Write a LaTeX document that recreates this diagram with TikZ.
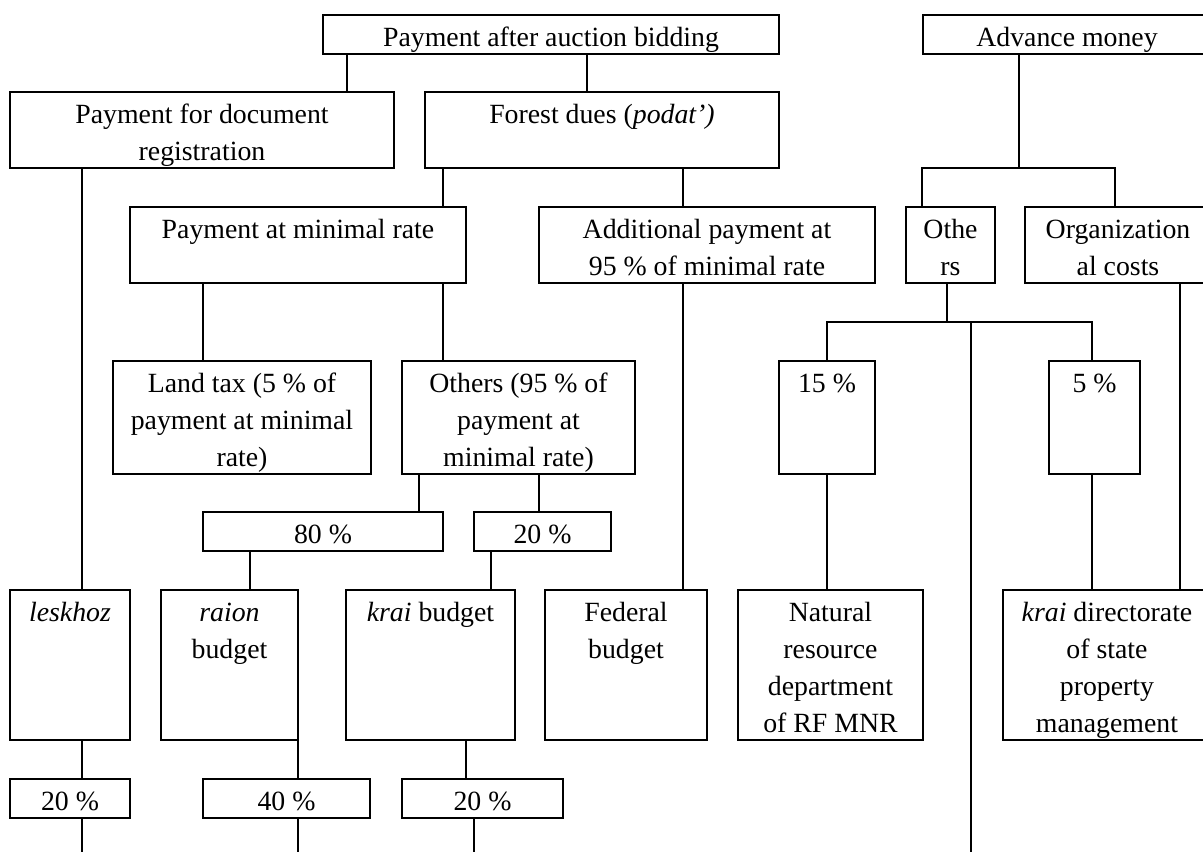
\documentclass[tikz,border=0pt]{standalone}
\usepackage{fontspec}
\setmainfont{Liberation Serif}
\newcommand\boxtxt[3]{\parbox[t][#2pt][t]{#1pt}{\centering\rule{0pt}{31pt}#3}}
\begin{document}
\begin{tikzpicture}[x=1pt,y=-1pt,
  bx/.style={draw, line width=1.8pt, inner sep=0pt, outer sep=0pt, anchor=north west,
    font=\fontsize{27.8pt}{37pt}\selectfont},
  ln/.style={line width=1.8pt}]
\useasboundingbox (0,0) rectangle (1203,852);
\clip (0,0) rectangle (1203,852);
% boxes
\node[bx] (top) at (323,15) {\boxtxt{456}{39}{Payment after auction bidding}};
\node[bx] (adv) at (923,15) {\boxtxt{288}{39}{Advance money}};
\node[bx] (doc) at (10,92) {\boxtxt{384}{76}{Payment for document\\registration}};
\node[bx] (forest) at (425,92) {\boxtxt{354}{76}{Forest dues (\textit{podat’)}}};
\node[bx] (minrate) at (130,207) {\boxtxt{336}{76}{Payment at minimal rate}};
\node[bx] (addl) at (539,207) {\boxtxt{336}{76}{Additional payment at\\95 \% of minimal rate}};
\node[bx] (othe) at (906,207) {\boxtxt{89}{76}{Othe\\rs}};
\node[bx] (org) at (1025,207) {\boxtxt{186}{76}{Organization\\al costs}};
\node[bx] (land) at (113,361) {\boxtxt{258}{113}{Land tax (5 \% of\\payment at minimal\\rate)}};
\node[bx] (oth95) at (402,361) {\boxtxt{233}{113}{Others (95 \% of\\payment at\\minimal rate)}};
\node[bx] (p15) at (779,361) {\boxtxt{96}{113}{15 \%}};
\node[bx] (p5) at (1049,361) {\boxtxt{91}{113}{5 \%}};
\node[bx] (p80) at (203,512) {\boxtxt{240}{39}{80 \%}};
\node[bx] (p20a) at (474,512) {\boxtxt{137}{39}{20 \%}};
\node[bx] (lesk) at (10,590) {\boxtxt{120}{150}{\textit{leskhoz}}};
\node[bx] (raion) at (161,590) {\boxtxt{137}{150}{\textit{raion}\\budget}};
\node[bx] (krai) at (346,590) {\boxtxt{169}{150}{\textit{krai} budget}};
\node[bx] (fed) at (545,590) {\boxtxt{162}{150}{Federal\\budget}};
\node[bx] (nat) at (738,590) {\boxtxt{185}{150}{Natural\\resource\\department\\of RF MNR}};
\node[bx] (kdir) at (1003,590) {\boxtxt{208}{150}{\textit{krai} directorate\\of state\\property\\management}};
\node[bx] (b20a) at (10,779) {\boxtxt{120}{39}{20 \%}};
\node[bx] (b40) at (203,779) {\boxtxt{167}{39}{40 \%}};
\node[bx] (b20b) at (402,779) {\boxtxt{161}{39}{20 \%}};
% x positions of connectors
\coordinate (xa) at (347,0);
\coordinate (xb) at (587,0);
\coordinate (xc) at (82,0);
\coordinate (xd) at (443,0);
\coordinate (xe) at (683,0);
\coordinate (xf) at (922,0);
\coordinate (xg) at (1115,0);
\coordinate (xh) at (203,0);
\coordinate (xi) at (419,0);
\coordinate (xj) at (539,0);
\coordinate (xk) at (250,0);
\coordinate (xl) at (491,0);
\coordinate (xm) at (947,0);
\coordinate (xn) at (827,0);
\coordinate (xo) at (1092,0);
\coordinate (xq) at (1180,0);
\coordinate (xr) at (298,0);
\coordinate (xs) at (466,0);
\coordinate (xt) at (474,0);
% junctions and free ends
\coordinate (j1) at (1019,168);
\coordinate (j2) at (947,322);
\coordinate (j3) at (971,322);
\coordinate (e0) at (971,852);
\coordinate (e1) at (82,852);
\coordinate (e2) at (298,852);
\coordinate (e3) at (474,852);
% connectors
\draw[ln] (top.south -| xa) -- (doc.north -| xa);
\draw[ln] (top.south -| xb) -- (forest.north -| xb);
\draw[ln] (doc.south -| xc) -- (lesk.north -| xc);
\draw[ln] (forest.south -| xd) -- (minrate.north -| xd);
\draw[ln] (forest.south -| xe) -- (addl.north -| xe);
\draw[ln] (adv.south -| j1) -- (j1);
\draw[ln] (othe.north -| xf) |- (j1) -| (org.north -| xg);
\draw[ln] (minrate.south -| xh) -- (land.north -| xh);
\draw[ln] (minrate.south -| xd) -- (oth95.north -| xd);
\draw[ln] (oth95.south -| xi) -- (p80.north -| xi);
\draw[ln] (oth95.south -| xj) -- (p20a.north -| xj);
\draw[ln] (p80.south -| xk) -- (raion.north -| xk);
\draw[ln] (p20a.south -| xl) -- (krai.north -| xl);
\draw[ln] (addl.south -| xe) -- (fed.north -| xe);
\draw[ln] (othe.south -| xm) -- (j2);
\draw[ln] (p15.north -| xn) |- (j2) -| (p5.north -| xo);
\draw[ln] (j3) -- (e0);
\draw[ln] (p15.south -| xn) -- (nat.north -| xn);
\draw[ln] (p5.south -| xo) -- (kdir.north -| xo);
\draw[ln] (org.south -| xq) -- (kdir.north -| xq);
\draw[ln] (lesk.south -| xc) -- (b20a.north -| xc);
\draw[ln] (b20a.south -| xc) -- (e1);
\draw[ln] (raion.south -| xr) -- (b40.north -| xr);
\draw[ln] (b40.south -| xr) -- (e2);
\draw[ln] (krai.south -| xs) -- (b20b.north -| xs);
\draw[ln] (b20b.south -| xt) -- (e3);
\end{tikzpicture}
\end{document}
